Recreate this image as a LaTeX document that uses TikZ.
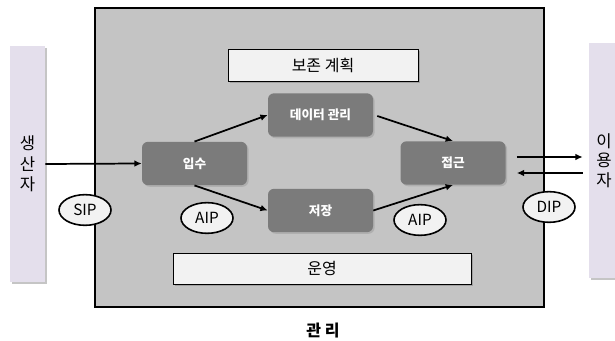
\documentclass[tikz,border=0pt]{standalone}
\usepackage{fontspec}
\setmainfont{Noto Sans CJK KR}
\usetikzlibrary{arrows.meta,shadows,calc,shapes.geometric}
\definecolor{mainfill}{HTML}{C4C4C4}
\definecolor{darkbox}{HTML}{7B7B7B}
\definecolor{barfill}{HTML}{E4DFEC}
\definecolor{lightbox}{HTML}{F2F2F2}
\begin{document}
\begin{tikzpicture}[x=0.75pt,y=-0.75pt,
  bar/.style={rectangle, fill=barfill, inner sep=0pt, align=center,
    font=\fontsize{12.5}{15.5}\selectfont,
    drop shadow={shadow xshift=1.5pt, shadow yshift=-1.5pt, opacity=0.45}},
  lightrect/.style={rectangle, draw=black, line width=0.7pt, fill=lightbox, inner sep=0pt,
    font=\fontsize{12}{14}\selectfont,
    drop shadow={shadow xshift=1.5pt, shadow yshift=-1.5pt, opacity=0.5}},
  func/.style={rectangle, rounded corners=4.5pt, fill=darkbox, text=white, inner sep=0pt,
    minimum width=78.75pt, minimum height=32.5pt, font=\fontsize{9.5}{11}\selectfont\bfseries,
    drop shadow={shadow xshift=1.2pt, shadow yshift=-1.2pt, opacity=0.3}},
  pkg/.style={ellipse, draw=black, line width=1.2pt, fill=lightbox, inner sep=0pt,
    minimum width=39pt, minimum height=23pt, font=\fontsize{11.5}{13}\selectfont},
  arr/.style={-{Latex[length=5.5pt,width=5pt]}, line width=1.3pt, black}
]
\useasboundingbox (0,0) rectangle (615,341);
\fill[white] (0,0) rectangle (615,341);

% main box
\node[rectangle, draw=black, line width=1.4pt, fill=mainfill, inner sep=0pt,
  minimum width=336.75pt, minimum height=224.25pt] (main) at (319.5,157.5) {};

% producer / consumer bars
\node[bar, minimum width=26.25pt, minimum height=177pt] (prod) at (27.5,164) {생\\산\\자};
\node[bar, minimum width=22.5pt, minimum height=176.25pt, font=\fontsize{12.5}{14.5}\selectfont] (cons) at (604,160.5) {이\\용\\자};

% light boxes
\node[lightrect, minimum width=142.5pt, minimum height=24pt] (plan) at (323,65) {보존 계획};
\node[lightrect, minimum width=223.5pt, minimum height=23.25pt] (oper) at (322,268.5) {운영};

% functional boxes
\node[func] (dm) at (320.5,115) {데이터 관리};
\node[func] (ingest) at (194.5,163.5) {입수};
\node[func] (stor) at (320.5,210.5) {저장};
\node[func] (acc) at (453,163) {접근};

% arrows
\draw[arr] (prod.east) -- (ingest.west);
\draw[arr] (ingest.north) -- (dm.west);
\draw[arr] (ingest.south) -- (stor.west);
\draw[arr] ($(dm.east)+(4,1)$) -- (acc.north);
\draw[arr] (stor.east) -- (acc.south);
\draw[arr] ($(acc.east)+(11,-6)$) -- ($(cons.west)+(-6,-3.5)$);
\draw[arr] ($(cons.west)+(-6,12.5)$) -- ($(acc.east)+(11,10)$);

% packages
\node[pkg] (sip) at (85,210) {SIP};
\node[pkg] (aip1) at (207,218) {AIP};
\node[pkg] (aip2) at (420,220) {AIP};
\node[pkg] (dip) at (549,207) {DIP};

% label
\node[font=\fontsize{12}{14}\selectfont\bfseries] (mgmt) at (323,331) {관 리};
\end{tikzpicture}
\end{document}
